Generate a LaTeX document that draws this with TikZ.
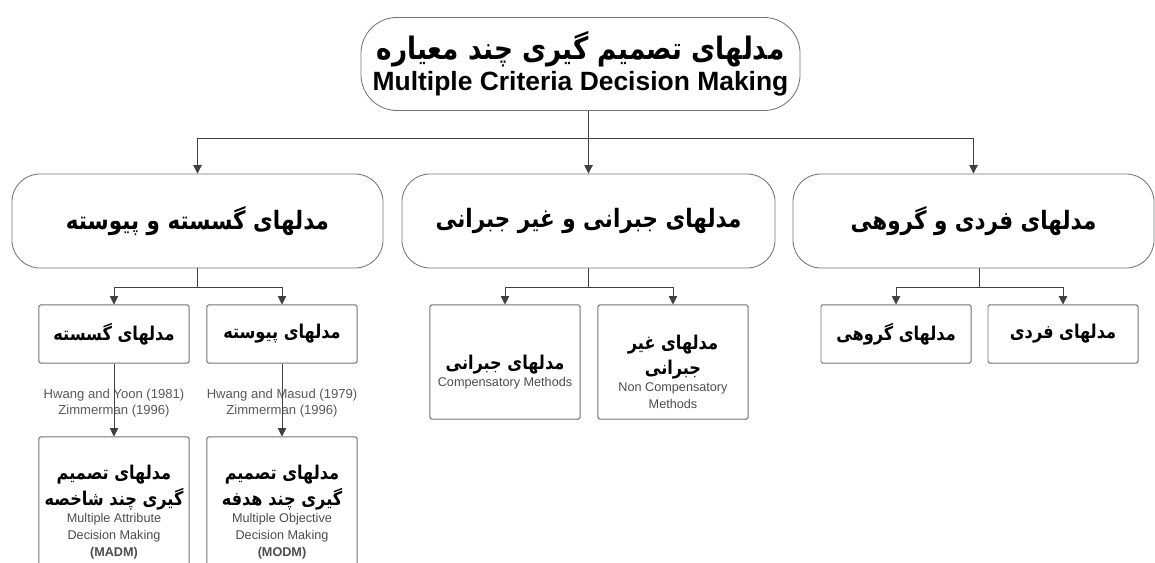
\documentclass[tikz,border=0pt]{standalone}
\usepackage{fontspec}
\setmainfont{Liberation Sans}
\newfontfamily\fafont[Script=Arabic, FakeStretch=0.85]{DejaVu Sans}
\TeXXeTstate=1
\usetikzlibrary{arrows.meta}

\newcommand{\fa}[2][13.5]{{\fontsize{#1}{#1}\fafont\bfseries\color{black}\beginR #2\endR}}

\begin{document}
\begin{tikzpicture}[x=0.025cm, y=-0.025cm,
    every node/.append style={align=center, inner sep=1pt},
    bigbox/.style={draw=black!55, line width=0.6pt, rounded corners=0.7cm, minimum height=2.35cm},
    smallbox/.style={draw=black!55, line width=0.7pt, rounded corners=1pt, minimum width=3.75cm},
    link/.style={draw=black!75, line width=0.6pt, -{Triangle[length=6pt, width=6pt]}},
    ref/.style={text=black!65, font=\fontsize{9.3}{11.3}\selectfont},
    en/.style={text=black!70, font=\fontsize{9}{12}\selectfont}]
  \useasboundingbox (0,0) rectangle (1155,563);

  % top
  \node[bigbox, rounded corners=0.9cm, minimum width=10.975cm, minimum height=2.325cm,
    font=\fontsize{18.8}{22}\selectfont\bfseries] (mcdm) at (580.5,64)
    {\fa[22]{مدلهای تصمیم گیری چند معیاره}\\
     Multiple Criteria Decision Making};

  % second level
  \node[bigbox, minimum width=9.275cm] (discont) at (197.5,221)
    {\fa[18]{مدلهای گسسته و پیوسته}};
  \node[bigbox, minimum width=9.325cm] (comp) at (588.5,221)
    {\fa[18]{مدلهای جبرانی و غیر جبرانی}};
  \node[bigbox, minimum width=9.025cm] (group) at (973.5,221)
    {\fa[18]{مدلهای فردی و گروهی}};

  % third level
  \node[smallbox, minimum height=1.45cm] (disc) at (114,334) {\fa{مدلهای گسسته}};
  \node[smallbox, minimum height=1.45cm] (cont) at (282,334) {\fa{مدلهای پیوسته}};
  \node[smallbox, minimum height=2.85cm] (cm) at (505,362) {};
  \node[en] (cmtext) at ([yshift=-0.25cm]cm.center)
    {\fa{مدلهای جبرانی}\\Compensatory Methods};
  \node[smallbox, minimum height=2.85cm] (ncm) at (673,362) {};
  \node[en] (ncmtext) at ([yshift=-0.25cm]ncm.center)
    {\fa{مدلهای غیر}\\[3pt]\fa{جبرانی}\\Non Compensatory\\Methods};
  \node[smallbox, minimum height=1.45cm] (grp) at (896,334) {\fa{مدلهای گروهی}};
  \node[smallbox, minimum height=1.45cm] (ind) at (1063,334) {\fa{مدلهای فردی}};

  % fourth level
  \node[smallbox, minimum height=3.75cm, en] (madm) at (114,512)
    {\fa{مدلهای تصمیم}\\[2pt]\fa{گیری چند شاخصه}\\Multiple Attribute\\Decision Making\\\textbf{(MADM)}};
  \node[smallbox, minimum height=3.75cm, en] (modm) at (282,512)
    {\fa{مدلهای تصمیم}\\[2pt]\fa{گیری چند هدفه}\\Multiple Objective\\Decision Making\\\textbf{(MODM)}};

  % references
  \node[ref] (refd) at (114,403) {Hwang and Yoon (1981)\\Zimmerman (1996)};
  \node[ref] (refc) at (282,403) {Hwang and Masud (1979)\\Zimmerman (1996)};

  % connectors
  \coordinate (bar1) at (588.5,138);
  \draw[link] (comp.north |- mcdm.south) -- (bar1) -| (discont.north);
  \draw[link] (bar1) -- (comp.north);
  \draw[link] (bar1) -| (group.north);

  \coordinate (bar2) at (197.5,287);
  \draw[link] (discont.south) -- (bar2) -| (disc.north);
  \draw[link] (bar2) -| (cont.north);
  \coordinate (bar3) at (588.5,287);
  \draw[link] (comp.south) -- (bar3) -| (cm.north);
  \draw[link] (bar3) -| (ncm.north);
  \coordinate (bar4) at (979,287);
  \draw[link] (bar4 |- group.south) -- (bar4) -| (grp.north);
  \draw[link] (bar4) -| (ind.north);

  \draw[link] (disc.south) -- (madm.north);
  \draw[link] (cont.south) -- (modm.north);
\end{tikzpicture}
\end{document}
